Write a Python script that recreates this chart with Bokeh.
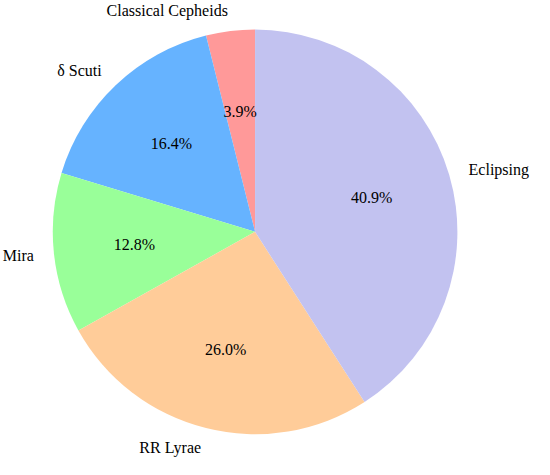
import math
from bokeh.plotting import figure
from bokeh.models import Range1d, ColumnDataSource, Label
from bokeh.embed import file_html
from bokeh.resources import INLINE

labels = ["Classical Cepheids", "δ Scuti", "Mira", "RR Lyrae", "Eclipsing"]
shares = [3.9, 16.4, 12.8, 26.0, 40.9]
colors = ["#ff9999", "#66b3ff", "#99ff99", "#ffcc99", "#c2c2f0"]

total = sum(shares)
start_deg = 90.0
starts, ends, lx, ly, lalign, px, py, ptxt = [], [], [], [], [], [], [], []
a = start_deg
for s in shares:
    sweep = 360.0 * s / total
    st = math.radians(a)
    en = math.radians(a + sweep)
    mid = (st + en) / 2
    starts.append(st)
    ends.append(en)
    x, y = math.cos(mid), math.sin(mid)
    lx.append(1.1 * x)
    ly.append(1.1 * y)
    lalign.append("left" if x > 0 else "right")
    px.append(0.6 * x)
    py.append(0.6 * y)
    ptxt.append(f"{100.0 * s / total:.1f}%")
    a += sweep

src = ColumnDataSource(dict(start=starts, end=ends, color=colors))

W, H = 534, 459
k = 0.968
scale = 209.0 * k
cx, cy = 263.0 * k, 239.0 * k
p = figure(width=W, height=H, output_backend="svg", toolbar_location=None,
           x_range=Range1d(-cx / scale, (W - cx) / scale),
           y_range=Range1d((cy - H) / scale, cy / scale),
           min_border=0)
p.axis.visible = False
p.grid.visible = False
p.outline_line_color = None

p.wedge(x=0, y=0, radius=1.0, start_angle="start", end_angle="end",
        fill_color="color", line_color=None, source=src)

font = "Liberation Serif"
for i in range(len(labels)):
    p.add_layout(Label(x=lx[i], y=ly[i], text=labels[i], text_align=lalign[i],
                       text_baseline="middle", text_font=font,
                       text_font_size="16px", text_color="black"))
    p.add_layout(Label(x=px[i], y=py[i], text=ptxt[i], text_align="center",
                       text_baseline="middle", text_font=font,
                       text_font_size="16px", text_color="black"))

open("out.html", "w").write(file_html(p, INLINE))
